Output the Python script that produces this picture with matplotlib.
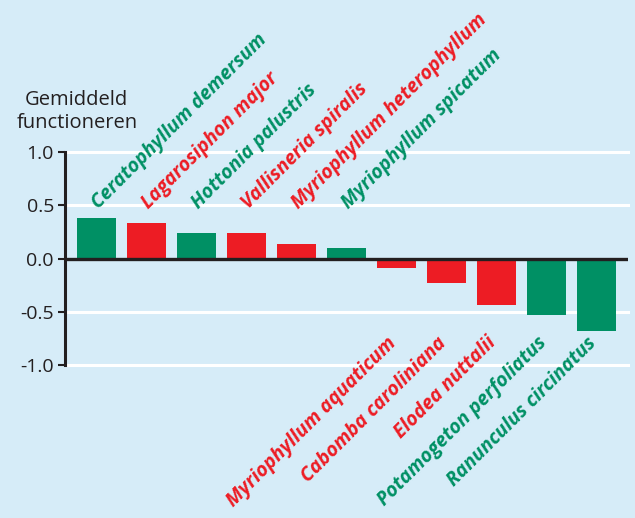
import matplotlib
matplotlib.use("Agg")
import matplotlib.pyplot as plt

# species in plotted order, score, and group colour key
species = [
    "Ceratophyllum demersum", "Lagarosiphon major", "Hottonia palustris",
    "Vallisneria spiralis", "Myriophyllum heterophyllum", "Myriophyllum spicatum",
    "Myriophyllum aquaticum", "Cabomba caroliniana", "Elodea nuttalii",
    "Potamogeton perfoliatus", "Ranunculus circinatus",
]
scores = [0.38, 0.33, 0.235, 0.235, 0.14, 0.10, -0.09, -0.23, -0.44, -0.535, -0.685]
groups = ["g", "r", "g", "r", "r", "g", "r", "r", "r", "g", "g"]
yticks = [-1.0, -0.5, 0.0, 0.5, 1.0]
ytick_labels = ["-1.0", "-0.5", "0.0", "0.5", "1.0"]

GREEN = "#009064"
RED = "#ED1C24"
BG = "#D6ECF8"
INK = "#231F20"
palette = {"g": GREEN, "r": RED}

plt.rcParams["font.family"] = ["Open Sans", "DejaVu Sans"]

fig = plt.figure(figsize=(6.35, 5.18), dpi=100, facecolor=BG)
ax = fig.add_axes([65 / 635, 1 - 365 / 518, 563 / 635, 213 / 518])
ax.set_facecolor(BG)

x = list(range(len(species)))
colors = [palette[g] for g in groups]
ax.bar(x, scores, width=0.78, color=colors, zorder=3)

ax.set_xlim(-0.63, 10.63)
ax.set_ylim(-1.0, 1.0)
for y in yticks:
    if y != 0:
        ax.axhline(y, color="white", lw=2.2, zorder=1, clip_on=False)
ax.axhline(0, color=INK, lw=2.4, zorder=4)

for side in ("top", "right", "bottom"):
    ax.spines[side].set_visible(False)
ax.spines["left"].set_color(INK)
ax.spines["left"].set_linewidth(2.2)
ax.spines["left"].set_zorder(5)
ax.set_xticks([])
ax.set_yticks(yticks)
ax.set_yticklabels(ytick_labels)
ax.tick_params(axis="y", direction="out", length=5, width=1.5, color=INK,
               labelcolor=INK, labelsize=14, pad=3)

ax.text(0.021, 1.19, "Gemiddeld\nfunctioneren", ha="center", va="center",
        color=INK, fontsize=14.5, linespacing=1.2, transform=ax.transAxes)

for xi, name, val, g in zip(x, species, scores, groups):
    if val >= 0:
        ax.text(xi + 0.12, 0.43, name, rotation=45, rotation_mode="anchor",
                ha="left", va="bottom", color=palette[g], fontsize=14,
                fontweight="bold", fontstyle="italic", clip_on=False)
    else:
        ax.text(xi - 0.2, -0.70, name, rotation=45, rotation_mode="anchor",
                ha="right", va="top", color=palette[g], fontsize=14,
                fontweight="bold", fontstyle="italic", clip_on=False)

fig.savefig("out.png", dpi=100, facecolor=BG)
